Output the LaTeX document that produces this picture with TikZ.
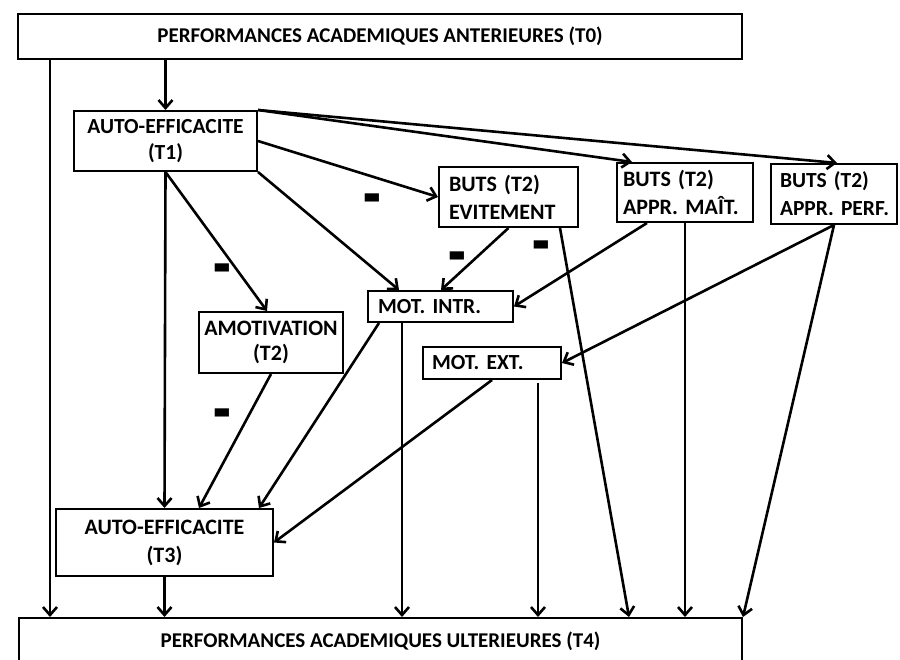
\documentclass[tikz,border=0pt]{standalone}
\usepackage{fontspec}
\setmainfont{Carlito}
\usetikzlibrary{arrows.meta,calc}
\begin{document}
\frenchspacing
\begin{tikzpicture}[x=1pt,y=-1pt,
  box/.style={draw, line width=2pt, inner sep=0pt, font=\fontsize{21.5}{26}\selectfont\bfseries, align=center},
  lbox/.style={box, align=left},
  arr/.style={line width=2.6pt, -{Straight Barb[length=8pt,width=14pt]}},
  minus/.style={font=\fontsize{36}{36}\selectfont\bfseries, inner sep=0pt, anchor=center}
]
\useasboundingbox (0,0) rectangle (900,660);
\clip (0,0) rectangle (900,660);
% boxes
\node[box, minimum width=724pt, minimum height=45pt, font=\fontsize{21}{22}\selectfont\bfseries] (T0) at (380,36.5) {PERFORMANCES ACADEMIQUES ANTERIEURES (T0)};
\node[box, minimum width=183pt, minimum height=60pt] (T1) at (165.5,141) {AUTO-EFFICACITE\\(T1)};
\node[lbox, inner xsep=10pt, text width=119pt, minimum height=60pt, font=\fontsize{22}{28}\selectfont\bfseries] (EV) at (508.5,197) {\mbox{BUTS (T2)}\\\mbox{EVITEMENT}};
\node[lbox, inner xsep=6pt, text width=124pt, minimum height=59pt, font=\fontsize{22}{28}\selectfont\bfseries] (MA) at (685,192.5) {\mbox{BUTS (T2)}\\\mbox{APPR. MAÎT.}};
\node[lbox, inner xsep=9pt, text width=108pt, minimum height=60pt, font=\fontsize{21.5}{28}\selectfont\bfseries] (PE) at (834,194) {\mbox{BUTS (T2)}\\\mbox{APPR. PERF.}};
\node[lbox, inner xsep=10pt, text width=125pt, minimum height=31pt] (MI) at (440.5,306.5) {\mbox{MOT. INTR.}};
\node[lbox, inner xsep=9pt, text width=120pt, minimum height=32pt] (ME) at (492,363) {\mbox{MOT. EXT.}};
\node[box, minimum width=144pt, minimum height=61pt, font=\fontsize{22}{25}\selectfont\bfseries] (AM) at (271,342.5) {AMOTIVATION\\(T2)};
\node[box, minimum width=217pt, minimum height=67pt, font=\fontsize{22}{28}\selectfont\bfseries] (T3) at (164.5,542.5) {AUTO-EFFICACITE\\(T3)};
\node[box, minimum width=723pt, minimum height=46pt, anchor=north, font=\fontsize{21}{22}\selectfont\bfseries] (T4) at (380.5,617) {PERFORMANCES ACADEMIQUES ULTERIEURES (T4)};
% connectors
\coordinate (xL) at (50,0);
\draw[arr] (T0.south -| xL) -- (T4.north -| xL);
\draw[arr] (T0.south -| T1.north) -- (T1.north);
\draw[arr] (T1.south) -- (T3.north);
\draw[arr] (T3.south) -- (T3.south |- T4.north);
\draw[arr] (T1.south) -- ($(AM.north west)+(69,0)$);
\draw[arr] (T1.south east) -- ($(MI.north west)+(32,0)$);
\draw[arr] (T1.east) -- (EV.west);
\draw[arr] (T1.north east) -- ($(MA.north west)+(16,0)$);
\draw[arr] (T1.north east) -- ($(PE.north west)+(67,0)$);
\draw[arr] (EV.south) -- ($(MI.north west)+(74,0)$);
\draw[arr] ($(EV.south east)+(-19,0)$) -- ($(T4.north west)+(611,0)$);
\draw[arr] ($(MA.south west)+(31,0)$) -- (MI.east);
\draw[arr] (MA.south) -- (MA.south |- T4.north);
\draw[arr] (PE.south) -- (ME.east);
\draw[arr] (PE.south) -- (T4.north east);
\draw[arr] (AM.south) -- ($(T3.north west)+(144,0)$);
\draw[arr] ($(MI.south west)+(12,0)$) -- ($(T3.north east)+(-15,0)$);
\coordinate (mi2) at ($(MI.south west)+(35,0)$);
\draw[arr] (mi2) -- (mi2 |- T4.north);
\draw[arr] (ME.south) -- (T3.east);
\coordinate (me2) at ($(ME.south east)+(-24,3)$);
\draw[arr] (me2) -- (me2 |- T4.north);
% minus signs
\newcommand{\mysign}{\raisebox{-23.5pt}[3pt][1pt]{\scalebox{1.6}[2.2]{-}}}
\node[minus] (m1) at (372,196) {\mysign};
\node[minus] (m2) at (222,266) {\mysign};
\node[minus] (m3) at (457,254) {\mysign};
\node[minus] (m4) at (541,243) {\mysign};
\node[minus] (m5) at (222,411) {\mysign};
\end{tikzpicture}
\end{document}
